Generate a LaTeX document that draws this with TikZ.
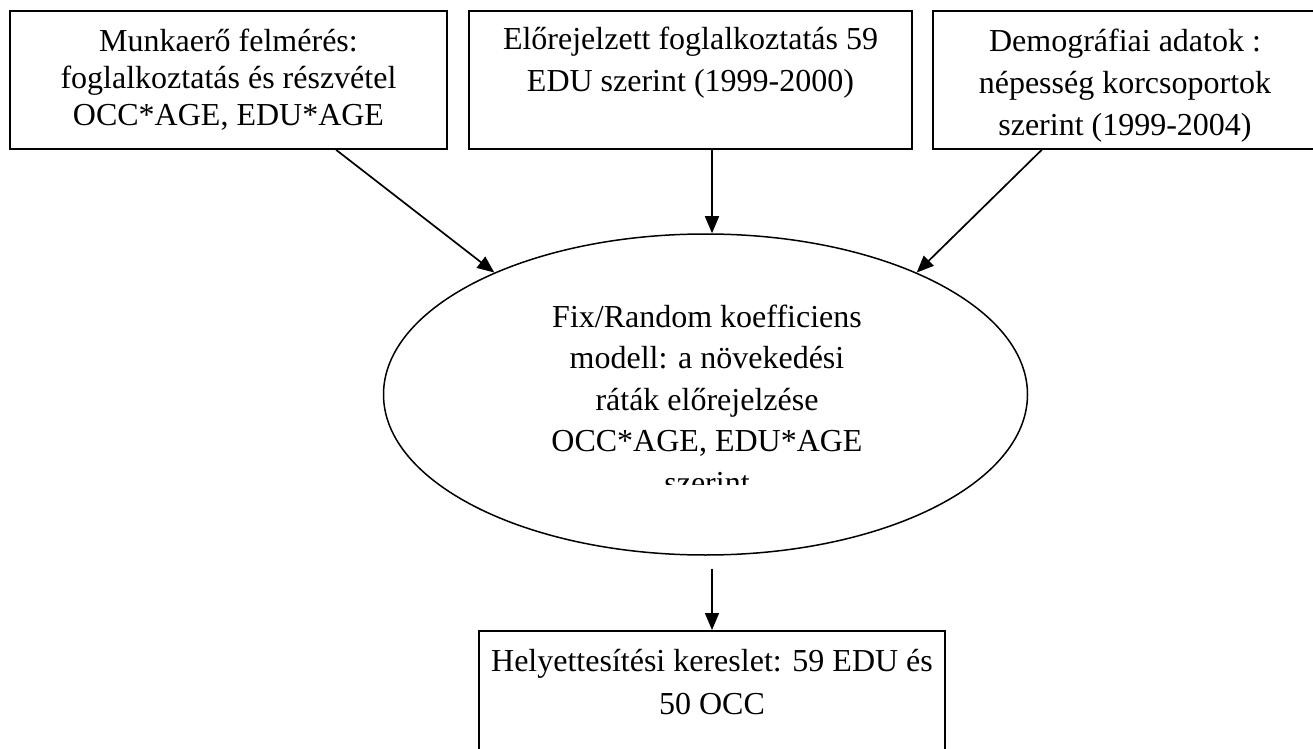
\documentclass[tikz,border=0pt]{standalone}
\usepackage{fontspec}
\setmainfont{Liberation Serif}
\usepackage{tikz}
\usetikzlibrary{arrows.meta,shapes.geometric}

\begin{document}
\begin{tikzpicture}[x=0.5pt,y=-0.5pt,
        >={Triangle[length=8.5pt,width=7pt]},
        every node/.style={font=\fontsize{16}{21}\selectfont, align=center, inner sep=0pt},
        databox/.style={draw, line width=0.85pt, minimum height=69pt},
        link/.style={->, line width=0.85pt}]
    \useasboundingbox (0,0) rectangle (1313,749);

    % input boxes
    \node[databox, minimum width=218.5pt, font=\fontsize{16}{18.5}\selectfont] (survey) at (228.5,80)
        {Munkaerő felmérés:\\foglalkoztatás és részvétel\\OCC*AGE, EDU*AGE};
    \node[databox, minimum width=221.5pt] (forecast) at (690.5,80)
        {Előrejelzett foglalkoztatás 59\\EDU szerint (1999-2000)\\ \mbox{}};
    \node[databox, minimum width=192pt] (demog) at (1125,80)
        {\rule{0pt}{17pt}Demográfiai adatok :\\népesség korcsoportok\\szerint (1999-2004)};

    % model
    \node[draw, ellipse, line width=0.75pt, minimum width=322pt, minimum height=160.5pt] (model) at (705.5,394.5) {};
    \begin{scope}
        \clip (383,234) rectangle (1028,484);
        \node[font=\fontsize{16}{20.75}\selectfont] (modeltext) at (707,399)
            {Fix/Random koefficiens\\modell: a növekedési\\ráták előrejelzése\\OCC*AGE, EDU*AGE\\szerint};
    \end{scope}

    % output box
    \node[draw, line width=0.85pt, anchor=north, minimum width=233pt, inner ysep=9pt,
        font=\fontsize{16}{21.5}\selectfont] (demand) at (712,630)
        {Helyettesítési kereslet: 59 EDU és\\50 OCC\rule[-40pt]{0pt}{0pt}};

    \foreach \from/\to in {survey.-33/model.150, demog.220/model.30}{% slanted arrows
        \draw[link] (\from) -- (\to);
    }
    \draw[link] (forecast.south -| demand.north) -- (model.north -| demand.north);
    \draw[link, shorten <=6.5pt] (model.south -| demand.north) -- (demand.north);
\end{tikzpicture}
\end{document}
